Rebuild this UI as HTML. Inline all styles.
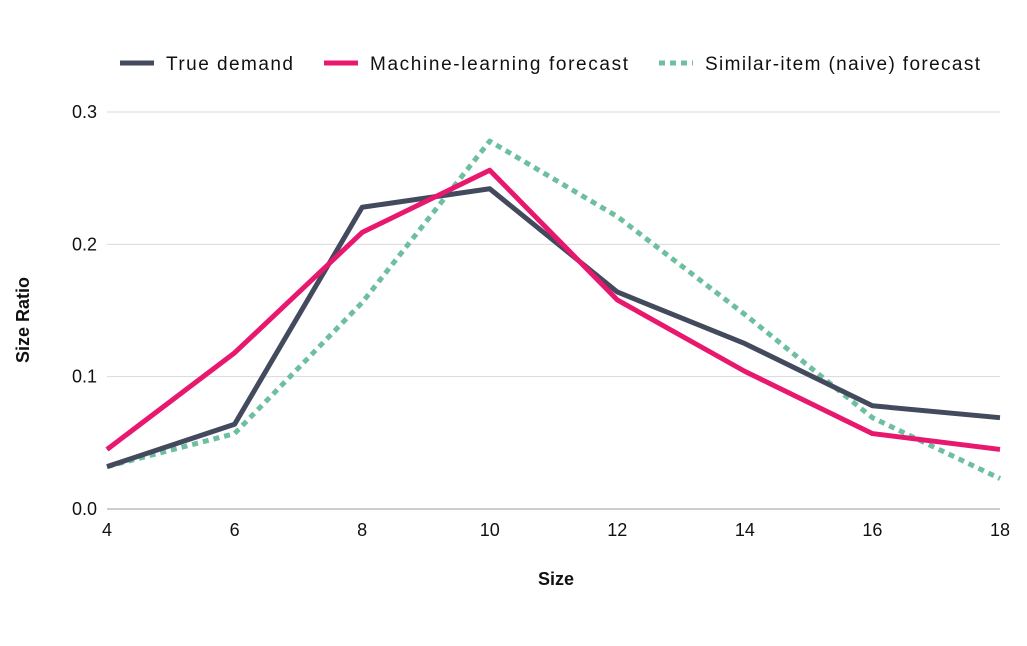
<!DOCTYPE html>
<html><head><meta charset="utf-8"><style>
body{margin:0;background:#fff;font-family:"Liberation Sans",sans-serif;}
svg text{font-family:"Liberation Sans",sans-serif;fill:#111;}
</style></head><body>
<svg id="chart" width="1027" height="641" xmlns="http://www.w3.org/2000/svg">
<g id="grid"></g>
<g id="axes"></g>
<g id="series"></g>
<text transform="translate(29,320) rotate(-90)" text-anchor="middle" font-size="18" font-weight="bold">Size Ratio</text>
<text x="556" y="585" text-anchor="middle" font-size="18" font-weight="bold">Size</text>
<g>
<g><line x1="120" y1="63" x2="154" y2="63" stroke="#434a5e" stroke-width="5"/><text x="166" y="70" font-size="19" textLength="127" lengthAdjust="spacing">True demand</text></g>
<g><line x1="324" y1="63" x2="358" y2="63" stroke="#e8186f" stroke-width="5"/><text x="370" y="70" font-size="19" textLength="258" lengthAdjust="spacing">Machine-learning forecast</text></g>
<g><line x1="659" y1="63" x2="693" y2="63" stroke="#6dbfa0" stroke-width="5" stroke-dasharray="6,5"/><text x="705" y="70" font-size="19" textLength="275" lengthAdjust="spacing">Similar-item (naive) forecast</text></g>
</g>
</svg>
<script>
const sizes=[4,6,8,10,12,14,16,18];
const trueDemand=[0.032,0.064,0.228,0.242,0.164,0.125,0.078,0.069];
const mlForecast=[0.045,0.118,0.209,0.256,0.158,0.104,0.057,0.045];
const naiveForecast=[0.032,0.057,0.156,0.278,0.221,0.147,0.069,0.023];
const yTicks=[0,0.1,0.2,0.3];
const yTickLabels=["0.0","0.1","0.2","0.3"];
const NS="http://www.w3.org/2000/svg";
const X0=107,X1=1000,Y0=509,Y1=112;
const xs=v=>X0+(v-4)/(18-4)*(X1-X0);
const ys=v=>Y0-(v/0.3)*(Y0-Y1);
function mk(t,a,p){const e=document.createElementNS(NS,t);for(const k in a)e.setAttribute(k,a[k]);p.appendChild(e);return e;}
const grid=document.getElementById('grid'),axes=document.getElementById('axes'),ser=document.getElementById('series');
yTicks.forEach((v,i)=>{
 const l=mk('line',{x1:X0,x2:X1,y1:ys(v),y2:ys(v),stroke:i==0?'#9a9aa6':'#d8d8e0','stroke-width':1},grid);
 
 
 const t=mk('text',{x:97,y:ys(v)+6,'text-anchor':'end','font-size':18},axes);t.textContent=yTickLabels[i];
 
 
});
sizes.forEach(s=>{
 const t=mk('text',{x:xs(s),y:536,'text-anchor':'middle','font-size':18},axes);t.textContent=s;
 
 
});
function line(vals,color,dash,name){
 const p=mk('polyline',{points:vals.map((v,i)=>xs(sizes[i])+','+ys(v)).join(' '),fill:'none',stroke:color,'stroke-width':5,'stroke-linejoin':'round'},ser);
 if(dash)p.setAttribute('stroke-dasharray',dash);
 
 
}
line(naiveForecast,'#6dbfa0','6,5','naive-forecast-line');
line(trueDemand,'#434a5e',null,'true-demand-line');
line(mlForecast,'#e8186f',null,'ml-forecast-line');
</script>
</body></html>
